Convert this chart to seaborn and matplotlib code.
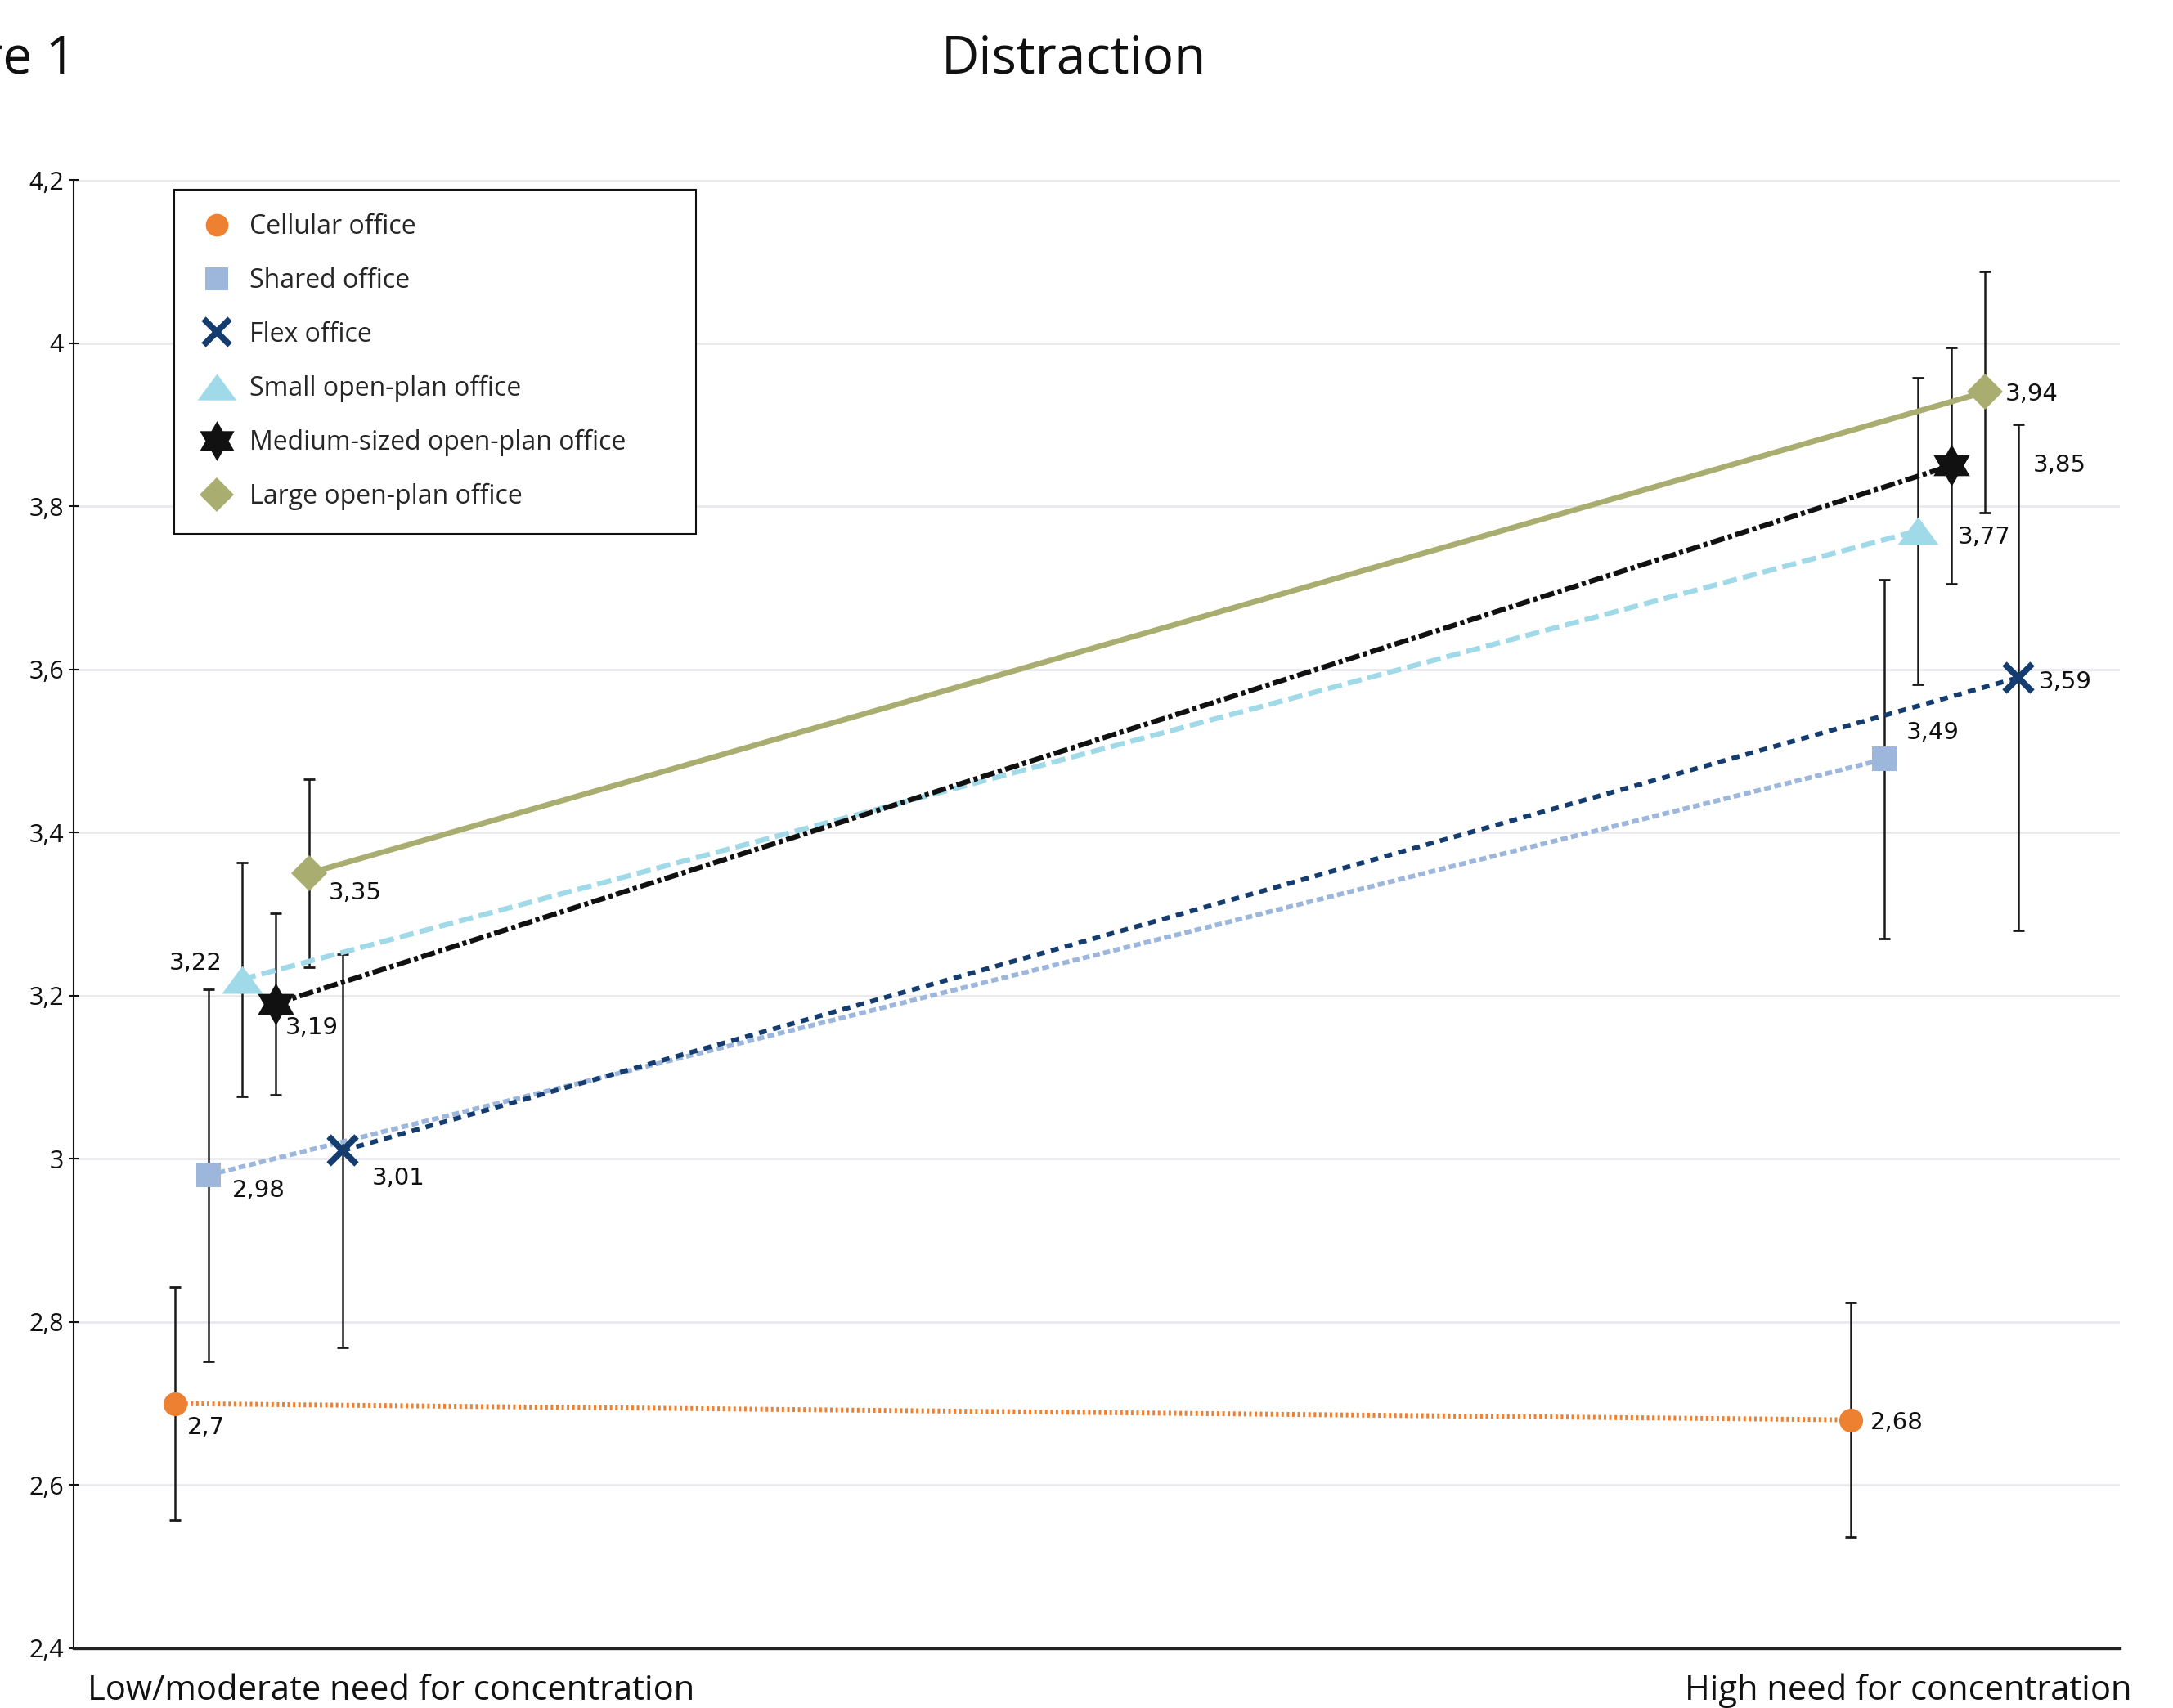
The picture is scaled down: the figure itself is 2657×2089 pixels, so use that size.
"""
Distraction by office type and need for concentration
Line chart with error bars, rebuilt with seaborn
"""

import numpy as np
import pandas as pd
import matplotlib.pyplot as plt
import seaborn as sns
from matplotlib.lines import Line2D
from matplotlib.path import Path

# x-axis groups
groups = ["Low/moderate need for concentration", "High need for concentration"]

# office types, legend order
offices = ["Cellular office", "Shared office", "Flex office",
           "Small open-plan office", "Medium-sized open-plan office",
           "Large open-plan office"]

# mean scores (low/moderate group, high group)
mean_low = [2.70, 2.98, 3.01, 3.22, 3.19, 3.35]
mean_high = [2.68, 3.49, 3.59, 3.77, 3.85, 3.94]

# error bar half-widths
err_low = [0.143, 0.228, 0.241, 0.143, 0.111, 0.115]
err_high = [0.144, 0.220, 0.310, 0.188, 0.145, 0.148]

# left-to-right slot of each office inside a group
dodge_slot = [0, 1, 5, 2, 3, 4]

# y axis ticks
y_ticks = [2.4, 2.6, 2.8, 3.0, 3.2, 3.4, 3.6, 3.8, 4.0, 4.2]
y_tick_labels = ["2,4", "2,6", "2,8", "3", "3,2", "3,4", "3,6", "3,8", "4", "4,2"]

# --- styles -------------------------------------------------------------
hexagram = Path.unit_regular_star(6, 0.577)
wide_triangle = [(-1, -0.68), (1, -0.68), (0, 0.68)]

styles = {
    "Cellular office": dict(color="#EE8131", ls=(0, (0.5, 0.6)), lw=4.3,
                            marker="o", ms=21, mew=0),
    "Shared office": dict(color="#9CB7DB", ls=(0, (1.5, 0.75)), lw=4.1,
                          marker="s", ms=21, mew=0),
    "Flex office": dict(color="#143C6E", ls=(0, (1.7, 1.4)), lw=4.1,
                        marker="x", ms=24, mew=5.5),
    "Small open-plan office": dict(color="#A0D9E7", ls=(0, (2.8, 1.2)), lw=4.5,
                                   marker=wide_triangle, ms=36, mew=0),
    "Medium-sized open-plan office": dict(color="#111111", ls=(0, (2.8, 0.7, 0.8, 0.7)),
                                          lw=4.5, marker=hexagram, ms=37, mew=0),
    "Large open-plan office": dict(color="#A9AE70", ls="-", lw=4.9,
                                   marker="D", ms=22, mew=0),
}

# value label offsets in pixels (right, down) from the marker
label_offsets = {
    ("Cellular office", 0): (15, 29, "left"),
    ("Shared office", 0): (29, 19, "left"),
    ("Flex office", 0): (36, 34, "left"),
    ("Small open-plan office", 0): (-24, -20, "right"),
    ("Medium-sized open-plan office", 0): (12, 29, "left"),
    ("Large open-plan office", 0): (24, 24, "left"),
    ("Cellular office", 1): (24, 3, "left"),
    ("Shared office", 1): (27, -32, "left"),
    ("Flex office", 1): (25, 5, "left"),
    ("Small open-plan office", 1): (49, 8, "left"),
    ("Medium-sized open-plan office", 1): (100, 0, "left"),
    ("Large open-plan office", 1): (25, 3, "left"),
}

# --- data frame ---------------------------------------------------------
df = pd.DataFrame({
    "office": offices * 2,
    "group": [0] * len(offices) + [1] * len(offices),
    "value": mean_low + mean_high,
    "err": err_low + err_high,
    "slot": dodge_slot * 2,
})
df["x"] = df["group"] + (df["slot"] - 2.5) * 0.02

# --- figure -------------------------------------------------------------
sns.set_theme(style="white")
plt.rcParams["font.family"] = ["Open Sans", "DejaVu Sans"]

fig = plt.figure(figsize=(26.57, 20.89), dpi=100)
ax = fig.add_axes([0.03387, 0.03495, 0.9417, 0.8597])

# error bars
ax.errorbar(df["x"], df["value"], yerr=df["err"], fmt="none",
            ecolor="#1a1a1a", elinewidth=1.8, capsize=5, capthick=2, zorder=2)

# lines with markers
for office in offices:
    sub = df[df["office"] == office]
    st = styles[office]
    sns.lineplot(data=sub, x="x", y="value", ax=ax, color=st["color"],
                 linestyle=st["ls"], linewidth=st["lw"], marker=st["marker"],
                 markersize=st["ms"], markeredgewidth=st["mew"],
                 markeredgecolor=st["color"], errorbar=None, legend=False,
                 zorder=3)

# value labels
for _, row in df.iterrows():
    dx, dy, ha = label_offsets[(row["office"], row["group"])]
    txt = f"{row['value']:g}".replace(".", ",")
    ax.annotate(txt, (row["x"], row["value"]), xytext=(dx, -dy),
                textcoords="offset pixels", ha=ha, va="center",
                fontsize=21, family="DejaVu Sans", color="#111111", zorder=4)

# axes
ax.set_xlim(-0.1103, 1.1105)
ax.set_ylim(2.4, 4.2)
ax.set_yticks(y_ticks)
ax.set_yticklabels(y_tick_labels, fontsize=22, color="#111111")
ax.set_xticks([])
ax.set_xlabel("")
ax.set_ylabel("")
ax.tick_params(axis="y", direction="inout", length=9, width=1.5,
               color="#111111", pad=4, left=True)
for y in y_ticks[1:]:
    ax.axhline(y, color="#E8E9ED", lw=1.9, zorder=0)

sns.despine(ax=ax, top=True, right=True)
ax.spines["left"].set_color("#111111")
ax.spines["left"].set_linewidth(1.5)
ax.spines["bottom"].set_color("#222222")
ax.spines["bottom"].set_linewidth(2.4)

# group labels under the axis
ax.text(0.0068, -0.0351, groups[0], transform=ax.transAxes, ha="left",
        va="baseline", fontsize=30, color="#111111")
ax.text(1.0056, -0.0351, groups[1], transform=ax.transAxes, ha="right",
        va="baseline", fontsize=30, color="#111111")

# legend with markers only
handles = []
for office in offices:
    st = styles[office]
    handles.append(Line2D([], [], linestyle="none", marker=st["marker"],
                          markersize=st["ms"] * 0.95, color=st["color"],
                          markeredgecolor=st["color"], markeredgewidth=st["mew"]))
leg = ax.legend(handles, offices, loc="upper left",
                bbox_to_anchor=(0.049, 0.9933, 0.255, 0), mode="expand",
                fontsize=23, frameon=True, fancybox=False, framealpha=1,
                edgecolor="#111111", borderpad=0.9, labelspacing=1.03,
                handlelength=1.5, handletextpad=0.5, borderaxespad=0)
leg.get_frame().set_linewidth(1.5)

# titles
fig.text(0.494, 0.957, "Distraction", ha="center", va="baseline",
         fontsize=46, color="#111111")
fig.text(0.0346, 0.957, "Figure 1", ha="right", va="baseline",
         fontsize=46, color="#111111")

fig.savefig("out.png", dpi=100)
plt.close(fig)
